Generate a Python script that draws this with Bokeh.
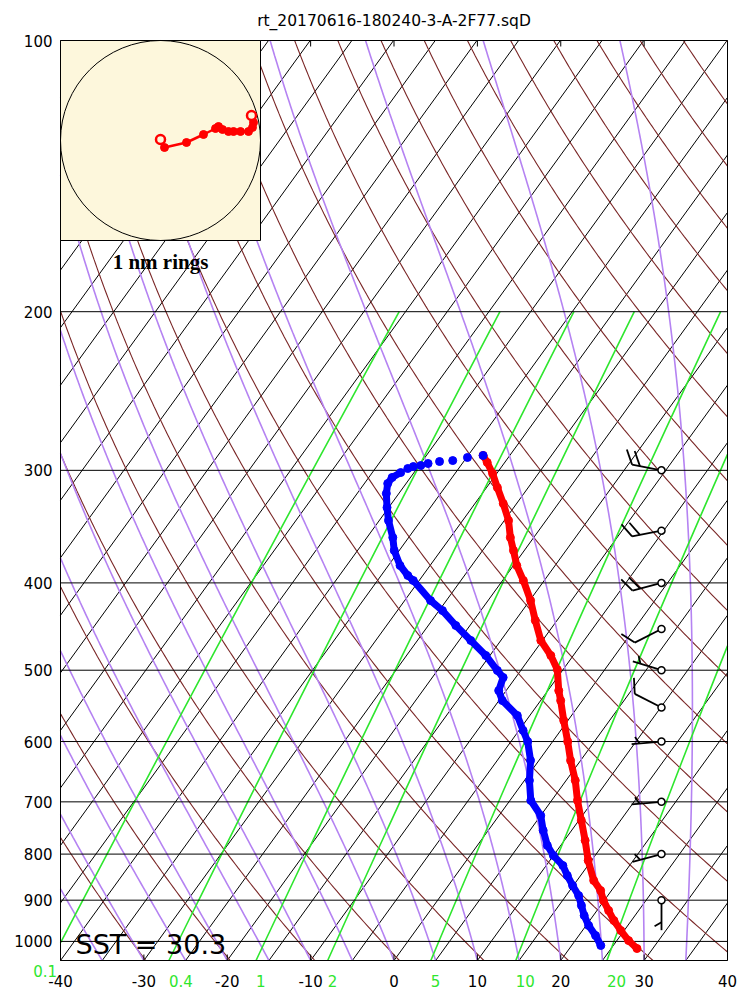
import numpy as np
from bokeh.plotting import figure
from bokeh.models import Range1d, LinearScale
from bokeh.embed import file_html
from bokeh.resources import INLINE
from bokeh.core.properties import value

# ---------------- data ----------------
title_text = "rt_20170616-180240-3-A-2F77.sqD"
sst_text = "SST = 30.3"
ring_text = "1 nm rings"

pressure_levels = [100, 200, 300, 400, 500, 600, 700, 800, 900, 1000]
pressure_labels = ["100", "200", "300", "400", "500", "600", "700", "800", "900", "1000"]
temp_ticks = [-40, -30, -20, -10, 0, 10, 20, 30, 40]
temp_tick_labels = ["-40", "-30", "-20", "-10", "0", "10", "20", "30", "40"]
mix_ratios = [0.1, 0.4, 1, 2, 5, 10, 20]
mix_labels = ["0.1", "0.4", "1", "2", "5", "10", "20"]
isotherms = list(range(-120, 45, 5))
dry_thetas = list(range(230, 460, 10))
moist_start_c = list(range(-40, 40, 5))      # saturated adiabats, temperature at 1050 hPa

# temperature profile (hPa, degC)
temp_p = [288.8, 294.0, 302.4, 313.5, 326.6, 341.0, 356.2, 368.2, 382.6, 397.6,
          418.4, 440.3, 463.4, 481.5, 499.1, 526.7, 540.3, 568.6, 599.9, 629.8,
          662.8, 697.5, 734.1, 772.7, 813.2, 855.8, 878.0, 900.7, 924.1, 948.0,
          972.6, 997.8, 1018.3]
temp_c = [-33.2, -32.1, -30.5, -28.7, -26.6, -24.5, -22.8, -21.3, -19.6, -17.5,
          -14.9, -12.6, -10.2, -7.7, -5.7, -3.7, -2.6, -0.5, 1.8, 3.8,
          6.1, 8.1, 10.3, 12.5, 14.6, 17.0, 18.7, 19.9, 21.4, 22.9,
          24.6, 26.4, 28.1]
# dewpoint profile (hPa, degC)
dew_p = [288.8, 290.3, 292.6, 293.3, 294.8, 296.3, 297.1, 298.6, 301.7, 305.5,
         310.3, 318.3, 329.9, 341.0, 356.2, 368.2, 382.6, 392.5, 397.6, 418.4,
         429.3, 446.0, 463.4, 481.5, 500.4, 509.4, 526.7, 540.3, 561.4, 583.3,
         599.9, 629.8, 662.8, 697.5, 724.9, 753.2, 782.6, 803.0, 823.7, 845.0,
         866.8, 889.4, 912.3, 935.9, 960.1, 985.0, 1010.5]
dew_c = [-33.2, -34.9, -36.4, -37.9, -39.1, -39.8, -40.6, -41.1, -41.6, -42.2,
         -42.2, -41.5, -40.2, -38.9, -36.9, -35.6, -33.6, -31.8, -30.7, -26.9,
         -24.6, -21.7, -18.6, -15.5, -12.8, -11.5, -10.9, -9.6, -6.5, -4.5,
         -3.0, -1.0, 0.6, 2.5, 5.0, 6.6, 8.4, 10.0, 12.0, 13.4,
         14.9, 16.5, 17.7, 18.9, 20.3, 22.0, 23.5]

# winds
wind_p = [300, 350, 400, 450, 500, 550, 600, 700, 800, 900]
wind_dir = [281, 259, 255, 243, 287, 297, 265, 265, 255, 180]
wind_kt = [20, 20, 20, 10, 5, 10, 5, 5, 5, 5]

# sonde drift (nautical miles east / north of launch)
drift_x = [0.00, 0.04, 0.26, 0.43, 0.55, 0.58, 0.62, 0.68, 0.73, 0.80, 0.88, 0.92, 0.93, 0.91]
drift_y = [0.01, -0.07, -0.02, 0.06, 0.12, 0.14, 0.11, 0.09, 0.09, 0.09, 0.09, 0.13, 0.18, 0.25]

# ---------------- geometry ----------------
W, H = 742, 1000
BOX_L, BOX_R, BOX_T, BOX_B = 60, 727, 40, 960   # chart box in canvas pixels
P_BOT, P_TOP = 1050.0, 100.0
X_MIN, X_MAX = -40.0, 40.0
SKEW = 34.0
PX_PER_X = (BOX_R - BOX_L) / (X_MAX - X_MIN)
PX_PER_LN = (BOX_B - BOX_T) / np.log(P_BOT / P_TOP)
FONT = "DejaVu Sans"
GREEN = "#2ee62e"


def x_at_px(px):
    return X_MIN + (px - BOX_L) / PX_PER_X


def p_at_px(py):
    return P_TOP * np.exp((py - BOX_T) / PX_PER_LN)


def skx(t, pr):
    return np.asarray(t, float) + SKEW * np.log(P_BOT / np.asarray(pr, float))


def td_from_w(w, pr):
    e = w * pr / (622.0 + w)
    a = np.log(e / 6.112)
    return 243.5 * a / (17.67 - a)


def moist_profile(t0_c, p_arr):
    """saturated adiabat starting at p_arr[0] with temperature t0_c"""
    def f(T, pr):
        tc = T - 273.15
        es = 6.112 * np.exp(0.057 * tc)
        rs = 0.622 * es / (pr - es)
        return (287.04 * T + 2.501e6 * rs) / (pr * (1005.7 + 2.501e6 ** 2 * rs * 0.622 / (287.04 * T * T)))

    def step(T, p0, p1, n=4):
        for k in range(n):
            a = p0 + (p1 - p0) * k / n
            b = p0 + (p1 - p0) * (k + 1) / n
            k1 = f(T, a)
            k2 = f(T + k1 * (b - a), b)
            T = T + 0.5 * (k1 + k2) * (b - a)
        return T

    T = t0_c + 273.15
    out = [T]
    for i in range(1, len(p_arr)):
        T = step(T, p_arr[i - 1], p_arr[i])
        out.append(T)
    return np.array(out) - 273.15


def clip_poly(xs, ps):
    """clip a polyline (skewed x, pressure) to X_MIN..X_MAX"""
    runs, cur = [], None
    lp = np.log(np.asarray(ps, float))
    for i in range(len(xs) - 1):
        x0, x1 = xs[i], xs[i + 1]
        l0, l1 = lp[i], lp[i + 1]
        d = x1 - x0
        if abs(d) < 1e-12:
            ta, tb = (0.0, 1.0) if X_MIN <= x0 <= X_MAX else (1.0, 0.0)
        else:
            t1, t2 = (X_MIN - x0) / d, (X_MAX - x0) / d
            ta, tb = max(0.0, min(t1, t2)), min(1.0, max(t1, t2))
        if ta > tb:
            if cur:
                runs.append(cur)
            cur = None
            continue
        xa, pa = x0 + d * ta, float(np.exp(l0 + (l1 - l0) * ta))
        xb, pb = x0 + d * tb, float(np.exp(l0 + (l1 - l0) * tb))
        if cur is not None and ta == 0.0:
            cur[0].append(xb)
            cur[1].append(pb)
        else:
            if cur:
                runs.append(cur)
            cur = [[xa, xb], [pa, pb]]
        if tb < 1.0:
            runs.append(cur)
            cur = None
    if cur:
        runs.append(cur)
    return runs


p = figure(width=W, height=H,
           x_range=Range1d(x_at_px(0), x_at_px(W)),
           y_range=Range1d(p_at_px(H), p_at_px(0)),
           y_axis_type="log", x_axis_location=None, y_axis_location=None,
           output_backend="svg", toolbar_location=None, min_border=0)
p.title.visible = False
p.outline_line_color = None
p.grid.visible = False
p.background_fill_color = "white"
p.border_fill_color = "white"

# ---------------- background lines ----------------
p_full = np.geomspace(P_BOT, P_TOP, 240)


def add_clipped(curves_x, curves_p, **kw):
    xs_all, ps_all = [], []
    for cx, cp in zip(curves_x, curves_p):
        for rx, rp in clip_poly(list(cx), list(cp)):
            xs_all.append(rx)
            ps_all.append(rp)
    p.multi_line(xs_all, ps_all, **kw)


add_clipped([skx([t, t], [P_BOT, P_TOP]) for t in isotherms],
            [[P_BOT, P_TOP] for _ in isotherms], line_color="black", line_width=1)

dry_x = []
for th in dry_thetas:
    tc = th * (p_full / 1000.0) ** 0.2857 - 273.15
    dry_x.append(skx(tc, p_full))
add_clipped(dry_x, [p_full] * len(dry_x), line_color="#7a2626", line_width=1.1)

moist_x = [skx(moist_profile(t0, p_full), p_full) for t0 in moist_start_c]
add_clipped(moist_x, [p_full] * len(moist_x), line_color="#b583f2", line_width=1.6)

p_mix = np.geomspace(P_BOT, 200.0, 60)
mix_x = [skx(td_from_w(w, p_mix), p_mix) for w in mix_ratios]
add_clipped(mix_x, [p_mix] * len(mix_x), line_color=GREEN, line_width=1.6)

# pressure lines and chart box
grid_xs = [[X_MIN, X_MAX] for _ in pressure_levels] + [[X_MIN, X_MAX], [X_MIN, X_MIN], [X_MAX, X_MAX]]
grid_ys = [[lv, lv] for lv in pressure_levels] + [[P_BOT, P_BOT], [P_BOT, P_TOP], [P_BOT, P_TOP]]
p.multi_line(grid_xs, grid_ys, line_color="black", line_width=1)

# temperature ticks (inside, bottom and top)
tick_len = 6
tk_xs = [[t, t] for t in temp_ticks] * 2
tk_ys = ([[P_BOT, P_BOT * np.exp(-tick_len / PX_PER_LN)] for _ in temp_ticks] +
         [[P_TOP, P_TOP * np.exp(tick_len / PX_PER_LN)] for _ in temp_ticks])
p.multi_line(tk_xs, tk_ys, line_color="black", line_width=1)

# ---------------- inset (drift plot) ----------------
NM_PX = 100.0
p.extra_x_ranges = {"ix": Range1d(-1.0 - BOX_L / NM_PX, -1.0 + (W - BOX_L) / NM_PX)}
p.extra_y_ranges = {"iy": Range1d(1.0 - (H - BOX_T) / NM_PX, 1.0 + BOX_T / NM_PX)}
p.extra_x_scales = {"ix": LinearScale()}
p.extra_y_scales = {"iy": LinearScale()}
p.quad(left=-1, right=1, bottom=-1, top=1, fill_color="#fdf7dc", line_color="black",
       line_width=1, x_range_name="ix", y_range_name="iy")
p.ellipse(x=0, y=0, width=2, height=2, fill_color=None, line_color="black", line_width=1,
          x_range_name="ix", y_range_name="iy")
p.line(drift_x, drift_y, line_color="red", line_width=2.5, x_range_name="ix", y_range_name="iy")
p.scatter(drift_x[1:-1], drift_y[1:-1], size=8, color="red", x_range_name="ix", y_range_name="iy")
p.scatter([drift_x[0], drift_x[-1]], [drift_y[0], drift_y[-1]], size=9, fill_color="#fdf7dc",
          line_color="red", line_width=2.5, x_range_name="ix", y_range_name="iy")
p.text(x=[0], y=[-1.21], text=[ring_text], x_range_name="ix", y_range_name="iy",
       text_font=value("Liberation Serif"), text_font_style="bold", text_font_size="21px",
       text_align="center", text_baseline="middle", text_color="black")

# ---------------- profiles ----------------
tx = skx(temp_c, temp_p)
p.line(tx, temp_p, line_color="red", line_width=7)
p.scatter(tx, temp_p, size=8, color="red")
dxv = skx(dew_c, dew_p)
dense = [i for i, pp in enumerate(dew_p) if pp > 300]
p.line(dxv[dense], np.asarray(dew_p)[dense], line_color="blue", line_width=7)
p.scatter(dxv, dew_p, size=8, color="blue")

# ---------------- wind barbs ----------------
BARB_X = x_at_px(661)
b_xs, b_ys = [], []
for pw, d, spd in zip(wind_p, wind_dir, wind_kt):
    r = np.radians(d)
    ux, uy = np.sin(r), -np.cos(r)          # screen direction (y down)
    a = np.radians(60)
    fx = ux * np.cos(a) - uy * np.sin(a)
    fy = ux * np.sin(a) + uy * np.cos(a)
    L, FL, HL, SP = 30.0, 16.0, 8.0, 8.0
    segs = [[(0, 0), (ux * L, uy * L)]]
    n10 = int(spd // 10)
    n5 = int(round((spd - 10 * n10) / 5))
    s = L
    for i in range(n10):
        segs.append([(ux * s, uy * s), (ux * s + fx * FL, uy * s + fy * FL)])
        s -= SP
    if n5:
        if n10 == 0:
            s = L - SP
        segs.append([(ux * s, uy * s), (ux * s + fx * HL, uy * s + fy * HL)])
    for seg in segs:
        b_xs.append([BARB_X + q[0] / PX_PER_X for q in seg])
        b_ys.append([pw * np.exp(q[1] / PX_PER_LN) for q in seg])
p.multi_line(b_xs, b_ys, line_color="black", line_width=1.8)
p.scatter([BARB_X] * len(wind_p), wind_p, size=7, fill_color="white", line_color="black",
          line_width=1.5)

# ---------------- texts ----------------
p.text(x=[x_at_px((BOX_L + BOX_R) / 2.0)], y=[p_at_px(20)], text=[title_text],
       text_font=value(FONT), text_font_size="15.5px", text_align="center",
       text_baseline="middle", text_color="black")
p.text(x=[x_at_px(75)], y=[p_at_px(944)], text=[sst_text], text_font=value(FONT),
       text_font_size="27px", text_align="left", text_baseline="alphabetic", text_color="black")
p.text(x=[x_at_px(BOX_L - 8)] * len(pressure_levels), y=pressure_levels, text=pressure_labels,
       text_font=value(FONT), text_font_size="15px", text_align="right",
       text_baseline="middle", text_color="black")
p.text(x=temp_ticks, y=[p_at_px(BOX_B + 20)] * len(temp_ticks), text=temp_tick_labels,
       text_font=value(FONT), text_font_size="15px", text_align="center",
       text_baseline="middle", text_color="black")

gx, gy, gt, gx2, gy2, gt2 = [], [], [], [], [], []
for w, lab in zip(mix_ratios, mix_labels):
    xw = float(td_from_w(w, P_BOT))
    if xw < X_MIN:
        gx2.append(xw - 6 / PX_PER_X)
        gy2.append(p_at_px(BOX_B + 10))
        gt2.append(lab)
    else:
        gx.append(xw)
        gy.append(p_at_px(BOX_B + 20))
        gt.append(lab)
p.text(x=gx, y=gy, text=gt, text_font=value(FONT), text_font_size="15px",
       text_align="left", text_baseline="middle", text_color=GREEN)
p.text(x=gx2, y=gy2, text=gt2, text_font=value(FONT), text_font_size="15px",
       text_align="center", text_baseline="middle", text_color=GREEN)

open("out.html", "w").write(file_html(p, INLINE))
